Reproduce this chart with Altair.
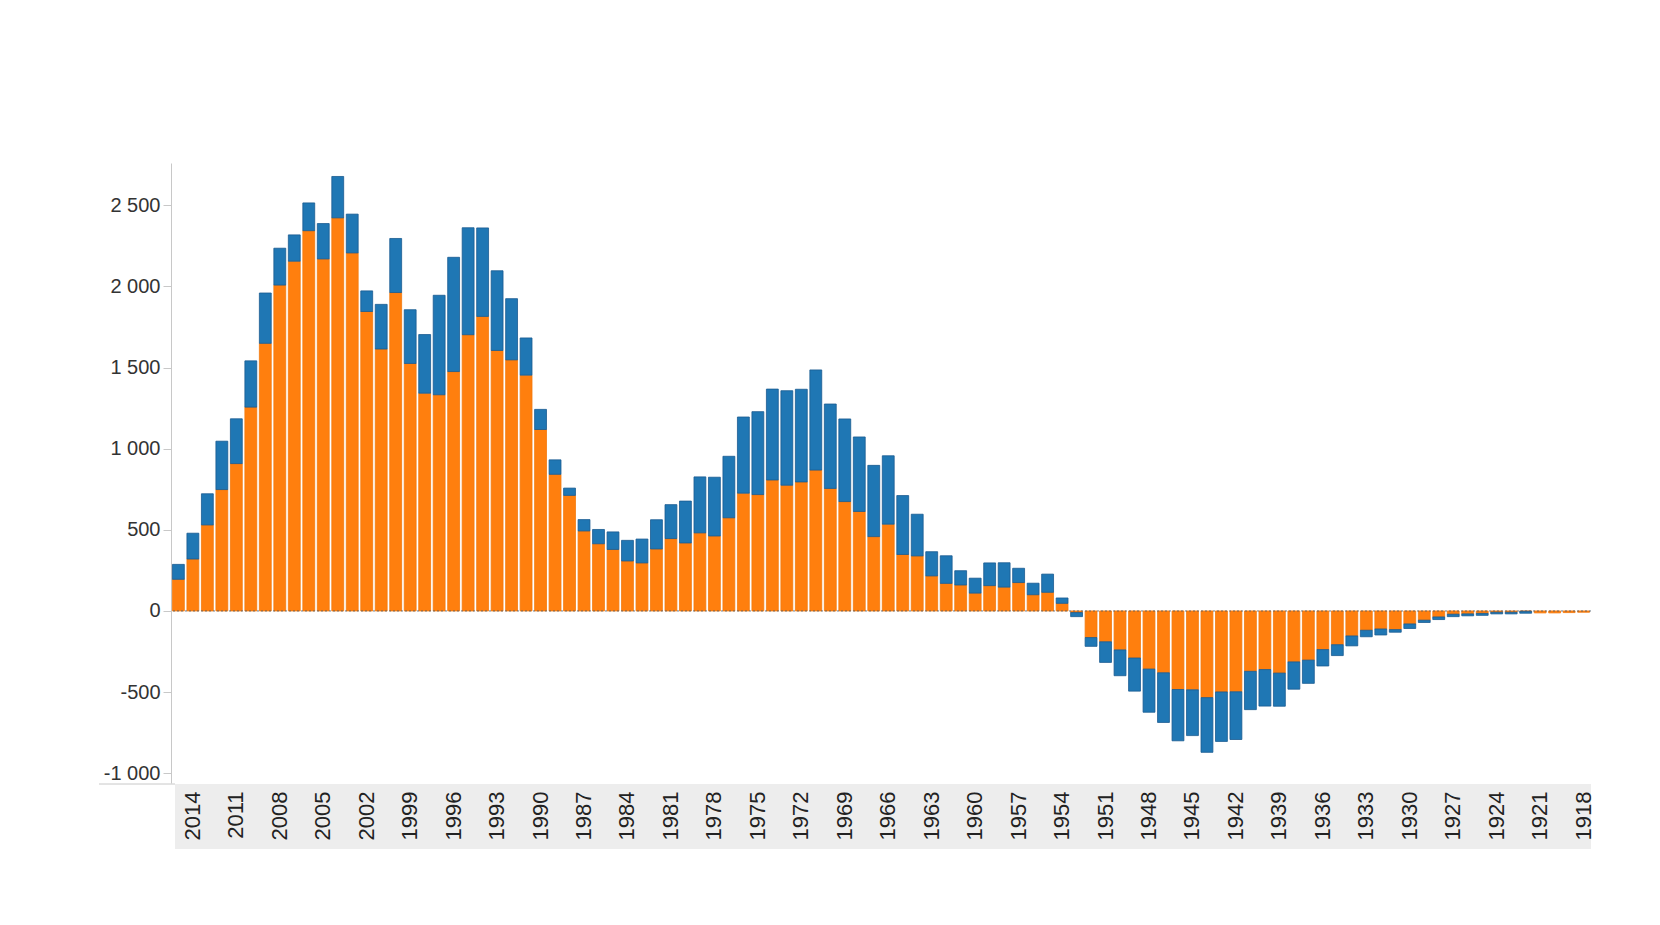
import altair as alt
import pandas as pd

# Categories: years, newest first
years = list(range(2015, 1917, -1))

series_names = ["Série 1", "Série 2"]

# Orange series (nearest the zero line)
orange = [
    195, 320, 530, 748, 908, 1256, 1649, 2008, 2155, 2343,
    2169, 2422, 2206, 1845, 1614, 1962, 1525, 1342, 1332, 1475,
    1702, 1815, 1605, 1547, 1453, 1118, 842, 712, 493, 414,
    379, 308, 296, 382, 446, 419, 481, 462, 574, 726,
    717, 807, 775, 795, 868, 755, 674, 613, 458, 535,
    348, 339, 216, 170, 160, 110, 156, 147, 175, 100,
    115, 47, -10, -164, -190, -240, -290, -358, -381, -484,
    -486, -534, -499, -498, -372, -361, -383, -314, -303, -238,
    -208, -154, -119, -111, -115, -80, -57, -37, -20, -18,
    -15, -8, -8, -2, -12, -12, -10, -8,
]

# Blue series (stacked beyond the orange one)
blue = [
    92, 159, 192, 298, 276, 285, 310, 227, 162, 171,
    218, 255, 239, 127, 275, 333, 331, 361, 613, 704,
    659, 545, 491, 377, 229, 124, 89, 45, 70, 88,
    108, 127, 147, 180, 209, 258, 345, 362, 379, 469,
    511, 560, 582, 571, 617, 520, 509, 459, 439, 421,
    363, 257, 149, 170, 88, 92, 140, 150, 88, 71,
    112, 33, -25, -54, -127, -159, -204, -266, -306, -316,
    -282, -337, -305, -294, -236, -225, -204, -168, -143, -101,
    -67, -61, -40, -37, -16, -28, -14, -16, -15, -12,
    -12, -10, -10, -12, 0, 0, 0, 0,
]

label_years = list(range(2014, 1917, -3))
y_ticks = [-1000, -500, 0, 500, 1000, 1500, 2000, 2500]

rows = []
for yr, o, b in zip(years, orange, blue):
    rows.append({"year": yr, "series": series_names[0], "value": o, "rank": 0})
    rows.append({"year": yr, "series": series_names[1], "value": b, "rank": 1})
df = pd.DataFrame(rows)

W = 1420
H = 620

bars = (
    alt.Chart(df)
    .transform_filter("datum.value != 0")
    .mark_bar(strokeWidth=0.8)
    .encode(
        x=alt.X(
            "year:O",
            sort="descending",
            scale=alt.Scale(paddingInner=0.18, paddingOuter=0.1),
            axis=alt.Axis(
                values=label_years,
                labelAngle=-90,
                labelFontSize=22,
                labelFont="Liberation Sans",
                labelColor="#222222",
                ticks=False,
                domain=False,
                labelPadding=8,
                labelOverlap=False,
                zindex=1,
                title=None,
            ),
        ),
        y=alt.Y(
            "value:Q",
            stack="zero",
            scale=alt.Scale(domain=[-1060, 2760], nice=False, zero=False),
            axis=alt.Axis(
                values=y_ticks,
                labelExpr="(datum.value < 0 ? '-' : '') + replace(format(abs(datum.value), ','), ',', ' ')",
                title=None,
                grid=False,
                domainColor="#c8c8c8",
                tickColor="#c8c8c8",
                tickSize=8,
                labelFontSize=20,
                labelFont="Liberation Sans",
                labelColor="#333333",
                labelPadding=3,
            ),
        ),
        color=alt.Color(
            "series:N",
            scale=alt.Scale(domain=series_names, range=["#ff7f0e", "#1f77b4"]),
            legend=None,
        ),
        stroke=alt.Stroke(
            "series:N",
            scale=alt.Scale(domain=series_names, range=["#f27a0e", "#195b91"]),
            legend=None,
        ),
        order=alt.Order("rank:Q"),
    )
)

one = pd.DataFrame({"k": [0]})

band = (
    alt.Chart(one)
    .mark_rect(color="#ededed")
    .encode(x=alt.value(4), x2=alt.value(W), y=alt.value(H + 1), y2=alt.value(H + 66))
)

base_line = (
    alt.Chart(one)
    .mark_rule(color="#c8c8c8", strokeWidth=1)
    .encode(x=alt.value(-72), x2=alt.value(4), y=alt.value(H + 1))
)

zero_line = (
    alt.Chart(one)
    .mark_rule(color="#4a5a6a", strokeDash=[2, 2], strokeWidth=1, opacity=0.8)
    .encode(y=alt.datum(0))
)

chart = (
    alt.layer(band, base_line, bars, zero_line)
    .properties(
        width=W,
        height=H,
        padding={"left": 90, "top": 155, "right": 5, "bottom": 5},
        background="white",
    )
    .configure_view(stroke=None)
)

chart.save("out.html", embed_options={"renderer": "svg", "actions": False})
